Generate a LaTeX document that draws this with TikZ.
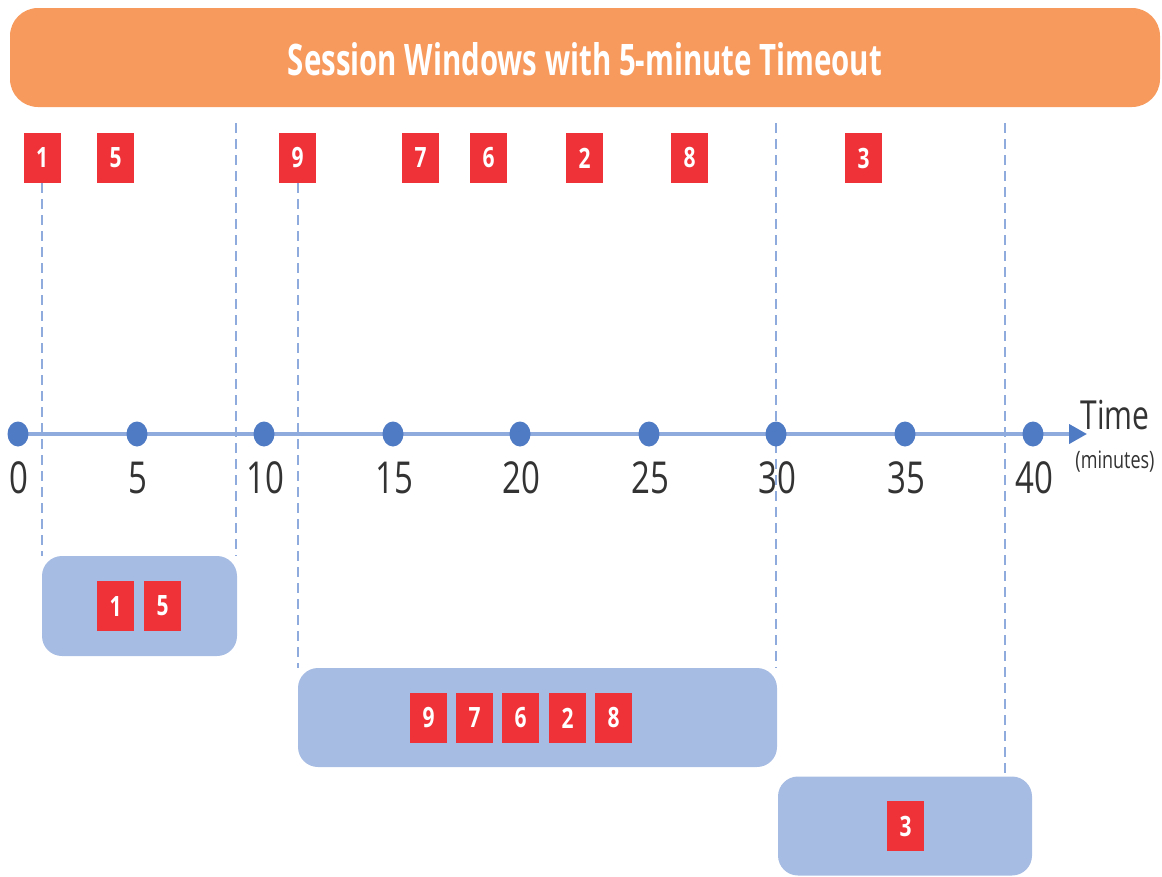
\documentclass[tikz,border=0pt]{standalone}
\usepackage{fontspec}
\setmainfont{Open Sans}
\usetikzlibrary{arrows.meta,shapes.geometric}
\definecolor{bannerc}{HTML}{F79A5E}
\definecolor{redc}{HTML}{EE3238}
\definecolor{winc}{HTML}{A7BCE2}
\definecolor{dotc}{HTML}{4F7AC4}
\definecolor{linec}{HTML}{8FAADC}
\definecolor{numc}{HTML}{333333}
\newcommand{\sqz}[1]{\scalebox{0.75}[1]{#1}}
\tikzset{
  evt/.style={fill=redc, minimum width=37pt, minimum height=50pt, inner sep=0pt, text=white, font=\fontsize{28}{28}\selectfont\bfseries},
  win/.style={fill=winc, rounded corners=20pt, inner sep=0pt},
  tdot/.style={ellipse, fill=dotc, minimum width=21pt, minimum height=25pt, inner sep=0pt},
  ticklbl/.style={text=numc, inner sep=0pt, font=\fontsize{44}{44}\selectfont},
  guide/.style={draw=linec, line width=2pt, dash pattern=on 10pt off 6pt},
  axis/.style={draw=linec, line width=4pt, -{Triangle[length=18pt,width=19pt,color=dotc,fill=dotc]}},
}
\begin{document}
\begin{tikzpicture}[x=1pt,y=-1pt]
\useasboundingbox (0,0) rectangle (1162,876);
% banner
\node[fill=bannerc, rounded corners=28pt, minimum width=1150pt, minimum height=99pt, inner sep=0pt] (banner) at (585,57.5) {};
\node[text=white, inner sep=0pt] (title) at (585,59) {\resizebox{594pt}{33pt}{\bfseries Session Windows with 5-minute Timeout}};
% windows
\node[win, minimum width=195pt, minimum height=100pt] (w1) at (139.5,606) {};
\node[win, minimum width=479pt, minimum height=99pt] (w2) at (537.5,717.5) {};
\node[win, minimum width=254pt, minimum height=99pt] (w3) at (905,826) {};
% top events
\node[evt] (t1) at (42,158) {\sqz{1}};
\node[evt] (t5) at (115.5,158) {\sqz{5}};
\node[evt] (t9) at (297.5,158) {\sqz{9}};
\node[evt] (t7) at (420.5,158) {\sqz{7}};
\node[evt] (t6) at (488.5,158) {\sqz{6}};
\node[evt] (t2) at (584.5,158) {\sqz{2}};
\node[evt] (t8) at (689.5,158) {\sqz{8}};
\node[evt] (t3) at (863.5,158) {\sqz{3}};
% guide lines
\coordinate (ga) at (236,123);
\coordinate (gb) at (776,123);
\coordinate (gc) at (1005,123);
\draw[guide] (t1.south) -- (t1.south |- w1.north);
\draw[guide] (ga) -- (ga |- w1.north);
\draw[guide] (t9.south) -- (t9.south |- w2.north);
\draw[guide] (gb) -- (gb |- w2.north);
\draw[guide] (gc) -- (gc |- w3.north);
% axis
\coordinate (axs) at (18,434);
\coordinate (axe) at (1087,434);
\draw[axis] (axs) -- (axe);
\foreach \n/\x in {0/18,5/137,10/264,15/393,20/520,25/649,30/776,35/905,40/1033}{
  \node[tdot] (d\n) at (\x,434) {};
  \node[ticklbl] (l\n) at (\x+1,478) {\sqz{\n}};
}
\node[inner sep=0pt, text=numc, font=\fontsize{40}{40}\selectfont] (time) at (1115,415) {\sqz{Time}};
\node[inner sep=0pt, text=numc, font=\fontsize{24}{24}\selectfont] (minutes) at (1115,462) {\sqz{(minutes)}};
% window events
\node[evt] (a1) at (115.5,606) {\sqz{1}};
\node[evt] (a5) at (162.5,606) {\sqz{5}};
\node[evt] (b9) at (428.5,718) {\sqz{9}};
\node[evt] (b7) at (474.5,718) {\sqz{7}};
\node[evt] (b6) at (520.5,718) {\sqz{6}};
\node[evt] (b2) at (567.5,718) {\sqz{2}};
\node[evt] (b8) at (613.5,718) {\sqz{8}};
\node[evt] (c3) at (905.5,826) {\sqz{3}};
\end{tikzpicture}
\end{document}
